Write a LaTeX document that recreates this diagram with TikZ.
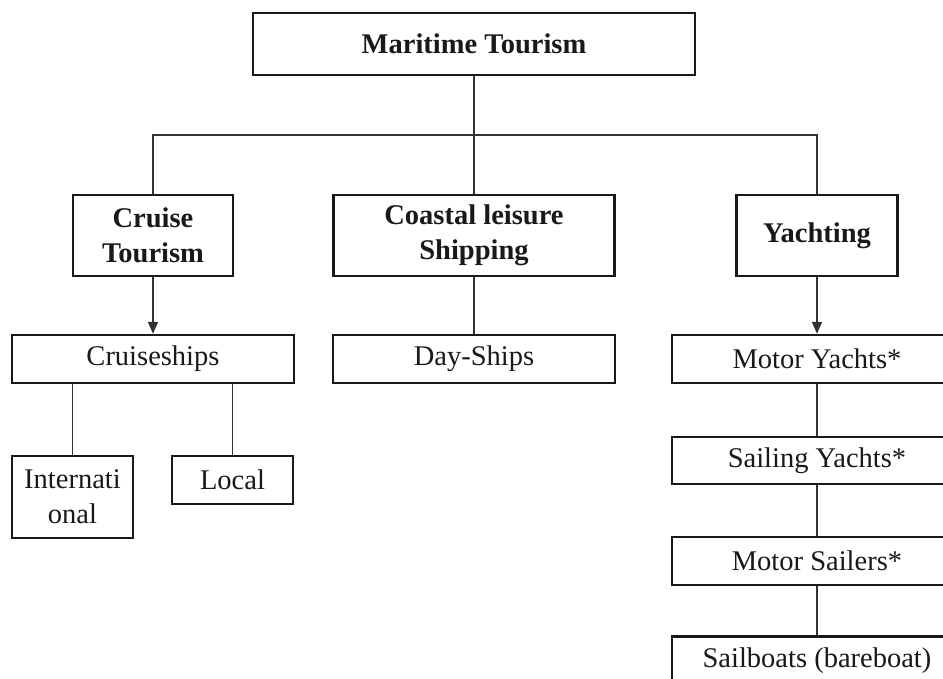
\documentclass[tikz,border=0pt]{standalone}
\usepackage{fontspec}
\setmainfont{Liberation Serif}
\usetikzlibrary{arrows.meta}
\begin{document}
\begin{tikzpicture}[x=1pt,y=-1pt,
  box/.style={draw=black!90, line width=2.4pt, inner sep=0pt, align=center,
    font=\fontsize{28.5}{35}\selectfont, text=black!90},
  bbox/.style={box, font=\fontsize{28.5}{35}\selectfont\bfseries},
  link/.style={draw=black!80, line width=1.6pt},
  arr/.style={link, -{Triangle[length=12pt,width=10pt]}}]
\clip (0,0) rectangle (943,679);
\fill[white] (0,0) rectangle (943,679);
\node[bbox, minimum width=442, minimum height=62] (mt) at (474,44) {Maritime Tourism};
\node[bbox, minimum width=160, minimum height=81] (ct) at (153,235.5) {Cruise\\Tourism};
\node[bbox, minimum width=281, minimum height=81] (cl) at (474,235.5) {Coastal leisure\\Shipping};
\node[bbox, minimum width=161, minimum height=81] (ya) at (817,235.5) {Yachting};
\node[box, minimum width=282, minimum height=48] (cs) at (153,359) {Cruiseships};
\node[box, minimum width=282, minimum height=48] (ds) at (474,359) {Day-Ships};
\node[box, minimum width=290, minimum height=48] (my) at (817,359) {Motor Yachts*};
\node[box, minimum width=290, minimum height=47] (sy) at (817,460.5) {Sailing Yachts*};
\node[box, minimum width=290, minimum height=48] (ms) at (817,561) {Motor Sailers*};
\node[box, minimum width=290, minimum height=48] (sb) at (817,660.5) {Sailboats (bareboat)};
\node[box, minimum width=121, minimum height=82] (in) at (72.5,497) {Internati\\onal};
\node[box, minimum width=121, minimum height=48] (lo) at (232.5,480) {Local};
\coordinate (bar) at (474,135);
\draw[link] (mt.south) -- (bar);
\draw[link] (ct.north) |- (bar) -| (ya.north);
\draw[link] (bar) -- (cl.north);
\draw[arr] (ct.south) -- (cs.north);
\draw[link] (cl.south) -- (ds.north);
\draw[arr] (ya.south) -- (my.north);
\draw[link] (my.south) -- (sy.north);
\draw[link] (sy.south) -- (ms.north);
\draw[link] (ms.south) -- (sb.north);
\draw[link] (cs.south -| in.north) -- (in.north);
\draw[link] (cs.south -| lo.north) -- (lo.north);
\end{tikzpicture}
\end{document}
